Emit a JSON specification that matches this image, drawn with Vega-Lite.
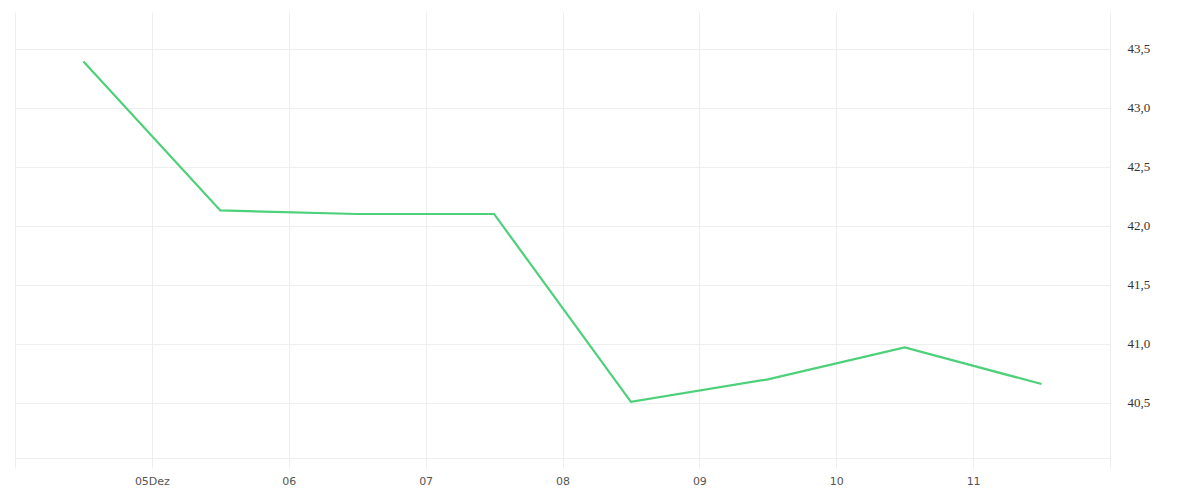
{
  "$schema": "https://vega.github.io/schema/vega-lite/v6.json",
  "width": 1095,
  "height": 446,
  "autosize": "none",
  "padding": {"left": 15, "top": 12, "right": 90, "bottom": 42},
  "config": {"view": {"stroke": null}},
  "data": {
    "values": [
      {"date": "2023-12-04T12:00:00Z", "value": 43.39},
      {"date": "2023-12-05T12:00:00Z", "value": 42.13},
      {"date": "2023-12-06T12:00:00Z", "value": 42.10},
      {"date": "2023-12-07T12:00:00Z", "value": 42.10},
      {"date": "2023-12-08T12:00:00Z", "value": 40.51},
      {"date": "2023-12-09T12:00:00Z", "value": 40.70},
      {"date": "2023-12-10T12:00:00Z", "value": 40.97},
      {"date": "2023-12-11T12:00:00Z", "value": 40.66}
    ]
  },
  "mark": {"type": "line", "color": "#4dd07a", "strokeWidth": 2.2},
  "encoding": {
    "x": {
      "field": "date",
      "type": "temporal",
      "title": null,
      "scale": {
        "type": "utc",
        "domain": [
          {"year": 2023, "month": 12, "date": 4, "utc": true},
          {"year": 2023, "month": 12, "date": 12, "utc": true}
        ]
      },
      "axis": {
        "values": [
          {"year": 2023, "month": 12, "date": 4, "utc": true},
          {"year": 2023, "month": 12, "date": 5, "utc": true},
          {"year": 2023, "month": 12, "date": 6, "utc": true},
          {"year": 2023, "month": 12, "date": 7, "utc": true},
          {"year": 2023, "month": 12, "date": 8, "utc": true},
          {"year": 2023, "month": 12, "date": 9, "utc": true},
          {"year": 2023, "month": 12, "date": 10, "utc": true},
          {"year": 2023, "month": 12, "date": 11, "utc": true},
          {"year": 2023, "month": 12, "date": 12, "utc": true}
        ],
        "labelExpr": "utcdate(datum.value) == 4 || utcdate(datum.value) == 12 ? '' : (utcdate(datum.value) == 5 ? utcFormat(datum.value, '%d') + 'Dez' : utcFormat(datum.value, '%d'))",
        "grid": true,
        "gridColor": "#eeeeee",
        "tickColor": "#eeeeee",
        "tickSize": 10,
        "domainColor": "#eeeeee",
        "labelFont": "DejaVu Sans",
        "labelFontSize": 11,
        "labelColor": "#555555",
        "labelPadding": 7,
        "labelFlush": false
      }
    },
    "y": {
      "field": "value",
      "type": "quantitative",
      "title": null,
      "scale": {"domain": [40.034, 43.81], "nice": false, "zero": false},
      "axis": {
        "orient": "right",
        "values": [40.5, 41.0, 41.5, 42.0, 42.5, 43.0, 43.5],
        "labelExpr": "replace(format(datum.value, '.1f'), '.', ',')",
        "grid": true,
        "gridColor": "#eeeeee",
        "ticks": false,
        "domain": false,
        "labelFont": "Liberation Serif",
        "labelFontSize": 13,
        "labelColor": "#333333",
        "labelPadding": 17
      }
    }
  }
}
